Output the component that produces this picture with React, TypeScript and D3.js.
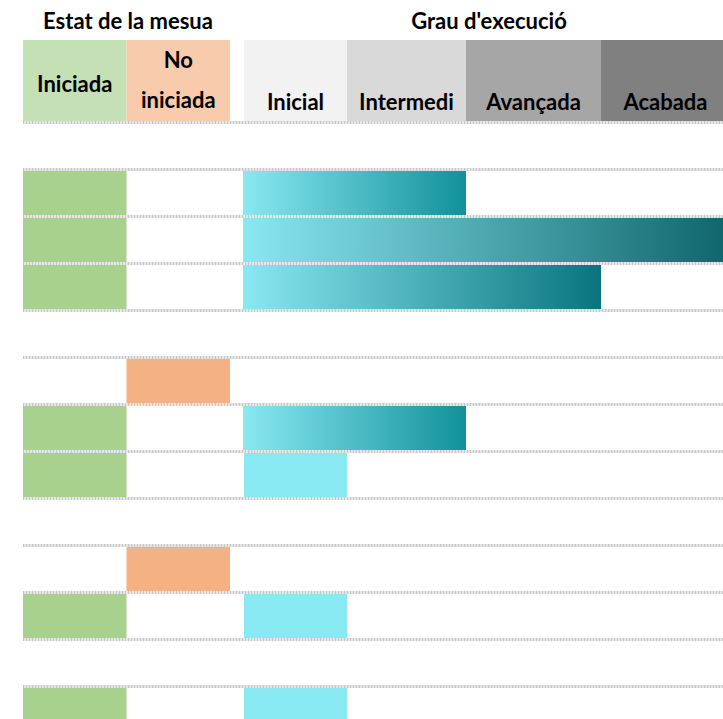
import React from "react";
import * as d3 from "d3";

// Estat de la mesua per fila (null = fila de grup buida)
const estat: (string | null)[] = [
  null, "Iniciada", "Iniciada", "Iniciada", null, "No iniciada",
  "Iniciada", "Iniciada", null, "No iniciada", "Iniciada", null, "Iniciada",
];
// Grau d'execució per fila: 0 = cap, 1 = Inicial ... 4 = Acabada
const grau = [0, 2, 4, 3, 0, 0, 2, 1, 0, 0, 1, 0, 1];

const estatLabels = ["Iniciada", "No iniciada"];
const grauLabels = ["Inicial", "Intermedi", "Avançada", "Acabada"];

const estatHeadColor: Record<string, string> = { Iniciada: "#c5e0b4", "No iniciada": "#f8cbad" };
const estatBarColor: Record<string, string> = { Iniciada: "#a9d18e", "No iniciada": "#f4b183" };
const grauHeadColor = ["#f2f2f2", "#d9d9d9", "#a6a6a6", "#808080"];
const grauEndColor: Record<number, string> = { 1: "#89e9f2", 2: "#11919b", 3: "#0a747e", 4: "#10656c" };

const W = 723, H = 719;
const font = "Lato, 'Open Sans', sans-serif";

export default function App() {
  const xEstat = d3.scaleBand<string>().domain(estatLabels).range([23, 230]);
  const xGrau = d3.scaleLinear().domain([0, 1, 2, 3, 4]).range([244, 347, 466, 601, 730]);
  const y = d3.scaleBand<number>().domain(d3.range(estat.length)).range([121, 121 + estat.length * 47]);
  const rowH = y.bandwidth();

  return (
    <div style={{ position: "absolute", left: 0, top: 0 }}>
      <svg width={W} height={H} style={{ display: "block" }} fontFamily={font} fontWeight="bold">
        <defs>
          {[2, 3, 4].map((g) => (
            <linearGradient key={g} id={`grad${g}`} x1="0" x2="1" y1="0" y2="0">
              <stop offset="0" stopColor="#8ae8f2" />
              <stop offset="1" stopColor={grauEndColor[g]} />
            </linearGradient>
          ))}
        </defs>

        {/* titles */}
        <text x={128} y={29} textAnchor="middle" fontSize={22}>Estat de la mesua</text>
        <text x={489} y={29} textAnchor="middle" fontSize={22}>Grau d'execució</text>

        {/* header cells */}
        {estatLabels.map((e) => (
          <rect key={e} x={xEstat(e)} y={40} width={xEstat.bandwidth()} height={81} fill={estatHeadColor[e]} />
        ))}
        {grauLabels.map((g, i) => (
          <rect key={g} x={xGrau(i)} y={40} width={xGrau(i + 1) - xGrau(i)} height={81} fill={grauHeadColor[i]} />
        ))}
        <text x={xEstat("Iniciada")! + xEstat.bandwidth() / 2} y={92} textAnchor="middle" fontSize={22}>Iniciada</text>
        <text x={xEstat("No iniciada")! + xEstat.bandwidth() / 2} textAnchor="middle" fontSize={22}>
          <tspan x={xEstat("No iniciada")! + xEstat.bandwidth() / 2} y={68}>No</tspan>
          <tspan x={xEstat("No iniciada")! + xEstat.bandwidth() / 2} y={108}>iniciada</tspan>
        </text>
        {grauLabels.map((g, i) => (
          <text key={g} x={(xGrau(i) + xGrau(i + 1)) / 2} y={110} textAnchor="middle" fontSize={22}>{g}</text>
        ))}

        {/* rows */}
        {estat.map((e, i) => {
          const y0 = y(i)!;
          const g = grau[i];
          return (
            <g key={i}>
              {e && (
                <rect x={xEstat(e)} y={y0 + 3} width={xEstat.bandwidth()} height={rowH - 3} fill={estatBarColor[e]} />
              )}
              {g > 0 && (
                <rect
                  x={g === 1 ? xGrau(0) : xGrau(0) - 1}
                  y={y0 + 3}
                  width={xGrau(g) - xGrau(0) + (g === 1 ? 0 : 1)}
                  height={rowH - 3}
                  fill={g === 1 ? grauEndColor[1] : `url(#grad${g})`}
                />
              )}
            </g>
          );
        })}

        {/* dotted row separators */}
        {d3.range(estat.length + 1).map((i) => {
          const yy = 121 + i * rowH + 1.5;
          return (
            <g key={i}>
              <line x1={23} x2={W} y1={yy} y2={yy} stroke="#e6e6e6" strokeWidth={3} />
              <line x1={23} x2={W} y1={yy} y2={yy} stroke="#c6c6c6" strokeWidth={3} strokeDasharray="1 2" />
            </g>
          );
        })}
      </svg>
    </div>
  );
}
